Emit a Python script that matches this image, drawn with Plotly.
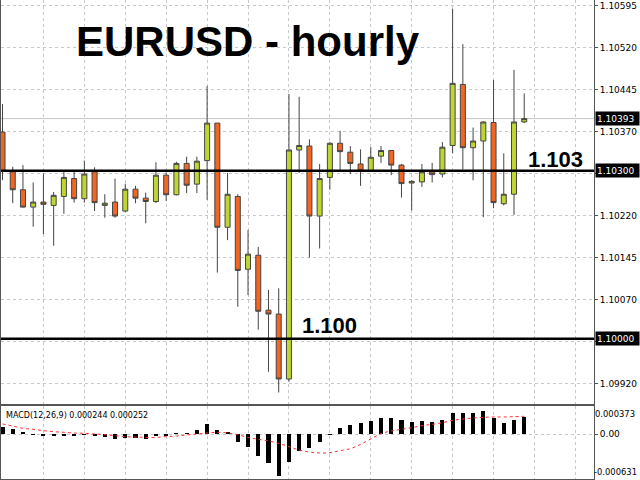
import plotly.graph_objects as go

# ---- data ----
idx = list(range(52))
open_ = [1.10369, 1.10298, 1.10266, 1.10235, 1.10244, 1.10238, 1.10254, 1.10286, 1.10250, 1.10298,
         1.10238, 1.10244, 1.10228, 1.10267, 1.10251, 1.10245, 1.10292, 1.10257, 1.10313, 1.10276,
         1.10318, 1.10385, 1.10199, 1.10254, 1.10124, 1.10149, 1.10051, 1.10044, 1.09928, 1.10337,
         1.10344, 1.10219, 1.10288, 1.10349, 1.10333, 1.10312, 1.10300, 1.10326, 1.10336, 1.10310,
         1.10278, 1.10280, 1.10298, 1.10294, 1.10345, 1.10454, 1.10341, 1.10353, 1.10386, 1.10241,
         1.10258, 1.10387]
high = [1.10419, 1.10307, 1.10310, 1.10279, 1.10295, 1.10262, 1.10299, 1.10299, 1.10318, 1.10306,
        1.10258, 1.10286, 1.10277, 1.10273, 1.10261, 1.10315, 1.10297, 1.10316, 1.10325, 1.10325,
        1.10451, 1.10385, 1.10296, 1.10258, 1.10194, 1.10164, 1.10087, 1.10090, 1.10437, 1.10432,
        1.10356, 1.10312, 1.10351, 1.10371, 1.10344, 1.10338, 1.10342, 1.10344, 1.10336, 1.10312,
        1.10283, 1.10312, 1.10314, 1.10351, 1.10589, 1.10526, 1.10377, 1.10388, 1.10462, 1.10331,
        1.10480, 1.10438]
low = [1.10283, 1.10242, 1.10234, 1.10200, 1.10187, 1.10166, 1.10223, 1.10243, 1.10243, 1.10228,
       1.10216, 1.10216, 1.10226, 1.10242, 1.10206, 1.10242, 1.10246, 1.10256, 1.10260, 1.10260,
       1.10248, 1.10118, 1.10176, 1.10057, 1.10078, 1.10016, 1.09941, 1.09904, 1.09923, 1.10296,
       1.10145, 1.10161, 1.10266, 1.10298, 1.10294, 1.10273, 1.10300, 1.10314, 1.10292, 1.10252,
       1.10229, 1.10271, 1.10279, 1.10288, 1.10331, 1.10302, 1.10283, 1.10217, 1.10233, 1.10238,
       1.10221, 1.10385]
close = [1.10299, 1.10266, 1.10235, 1.10244, 1.10240, 1.10256, 1.10288, 1.10250, 1.10294, 1.10243,
         1.10242, 1.10219, 1.10267, 1.10251, 1.10245, 1.10292, 1.10257, 1.10313, 1.10274, 1.10317,
         1.10385, 1.10199, 1.10258, 1.10122, 1.10151, 1.10049, 1.10044, 1.09928, 1.10337, 1.10345,
         1.10219, 1.10286, 1.10349, 1.10334, 1.10313, 1.10300, 1.10324, 1.10336, 1.10310, 1.10277,
         1.10281, 1.10298, 1.10293, 1.10342, 1.10456, 1.10341, 1.10353, 1.10387, 1.10243, 1.10258,
         1.10387, 1.10393]

macd_hist = [1.05, 0.71, 0.24, -0.10, -0.29, -0.29, -0.19, -0.29, -0.14, -0.24,
             -0.38, -0.76, -0.57, -0.57, -0.71, -0.33, -0.33, 0.10, 0.14, 0.57,
             1.43, 0.52, 0.29, -1.10, -1.81, -3.14, -4.19, -5.96, -3.96, -2.39,
             -1.96, -1.14, -0.02, 0.86, 1.29, 1.52, 1.86, 2.24, 2.24, 1.95,
             1.76, 1.81, 1.71, 1.95, 3.05, 3.05, 3.05, 3.24, 2.24, 1.57,
             2.00, 2.44]
macd_signal = [1.43, 1.14, 0.81, 0.67, 0.48, 0.33, 0.24, 0.14, 0.10, 0.00,
               -0.10, -0.24, -0.38, -0.43, -0.48, -0.48, -0.38, -0.29, -0.14, 0.00,
               0.14, 0.24, 0.14, -0.10, -0.48, -0.76, -1.00, -1.33, -1.81, -2.29,
               -2.57, -2.71, -2.67, -2.38, -2.10, -1.48, -0.71, 0.05, 0.43, 0.67,
               0.90, 1.19, 1.38, 1.62, 1.95, 2.14, 2.29, 2.38, 2.43, 2.43,
               2.48, 2.52]
macd_scale = 1e-4

price_ticks = [1.10595, 1.10520, 1.10445, 1.10370, 1.10295, 1.10220, 1.10145, 1.10070, 1.09995, 1.09920]
price_ticktext = ["1.10595", "1.10520", "1.10445", "1.10370", "", "1.10220", "1.10145", "1.10070", "", "1.09920"]
level_lines = [1.10300, 1.10000]
level_labels = ["1.103", "1.100"]
last_price = 1.10393
macd_top_label = "0.000373"
macd_bottom_label = "-0.000631"
macd_title = "MACD(12,26,9) 0.000244 0.000252"
title = "EURUSD - hourly"

BULL = "#bed62f"
BEAR = "#f26522"
GRID = "#c8c8c8"
AXIS = "#555555"
TICKFONT = dict(family="DejaVu Sans", size=9, color="#000000")
SMALLFONT = dict(family="DejaVu Sans", size=8.4, color="#000000")

fig = go.Figure()
fig.add_trace(go.Candlestick(
    x=idx, open=open_, high=high, low=low, close=close,
    increasing=dict(fillcolor=BULL, line=dict(color="#454545", width=1)),
    decreasing=dict(fillcolor=BEAR, line=dict(color="#454545", width=1)),
    xaxis="x", yaxis="y", showlegend=False, hoverinfo="skip"))

fig.add_trace(go.Bar(
    x=idx, y=[v * macd_scale for v in macd_hist], width=0.4,
    marker=dict(color="#000000", line=dict(width=0)),
    xaxis="x2", yaxis="y2", showlegend=False, hoverinfo="skip"))
fig.add_trace(go.Scatter(
    x=idx, y=[v * macd_scale for v in macd_signal], mode="lines",
    line=dict(color="#ff3030", width=1, dash="dot", shape="spline"),
    xaxis="x2", yaxis="y2", showlegend=False, hoverinfo="skip"))

xr = [-0.147, 57.82]
main_dom = [(479 - 404) / 479, 1.0]
macd_dom = [0.0, (479 - 406) / 479]

fig.update_layout(
    width=640, height=480,
    margin=dict(l=1, r=46, t=0, b=1),
    paper_bgcolor="white", plot_bgcolor="white",
    showlegend=False,
    bargap=0,
    xaxis=dict(domain=[0, 1], range=xr, anchor="y", rangeslider=dict(visible=False),
               tickvals=list(range(4, 58, 4)), showticklabels=False, ticks="",
               showgrid=True, gridcolor=GRID, griddash="dot", gridwidth=1,
               showline=True, linecolor=AXIS, linewidth=1, zeroline=False),
    yaxis=dict(domain=main_dom, range=[1.098834, 1.106048], side="right", anchor="x",
               tickvals=price_ticks, ticktext=price_ticktext, tickfont=TICKFONT,
               ticks="outside", ticklen=3, tickcolor=AXIS,
               showgrid=True, gridcolor=GRID, griddash="dot", gridwidth=1,
               showline=True, linecolor=AXIS, linewidth=1, mirror=True, zeroline=False),
    xaxis2=dict(domain=[0, 1], range=xr, anchor="y2",
                tickvals=list(range(4, 58, 4)), showticklabels=False, ticks="",
                showgrid=True, gridcolor=GRID, griddash="dot", gridwidth=1,
                showline=True, linecolor=AXIS, linewidth=1, mirror=True, zeroline=False),
    yaxis2=dict(domain=macd_dom, range=[-0.000643, 0.000400], side="right", anchor="x2",
                tickvals=[0.0], ticktext=["0.00"], tickfont=TICKFONT,
                ticks="outside", ticklen=3, tickcolor=AXIS,
                showgrid=True, gridcolor=GRID, griddash="dot", gridwidth=1,
                showline=True, linecolor=AXIS, linewidth=1, mirror=True, zeroline=False),
)

# current price line (light gray) and key levels (thick black)
fig.add_shape(type="line", xref="paper", x0=0, x1=1, yref="y", y0=last_price, y1=last_price,
              line=dict(color="#c4c4c4", width=1), layer="below")
for lv in level_lines:
    fig.add_shape(type="line", xref="paper", x0=0, x1=1, yref="y", y0=lv, y1=lv,
                  line=dict(color="#000000", width=2.6))

# highlighted price labels on the right axis
for val in [last_price] + level_lines:
    fig.add_annotation(xref="paper", x=1, xanchor="left", xshift=1, yref="y", y=val,
                       text=f"{val:.5f}", showarrow=False, bgcolor="#000000",
                       font=dict(family="DejaVu Sans", size=9, color="#ffffff"),
                       width=41, height=11, borderpad=1, align="left")

# level texts
fig.add_annotation(xref="paper", x=(555.2 - 1) / 593, yref="paper", y=(479 - 159) / 479,
                   text=f"<b>{level_labels[0]}</b>", showarrow=False, xanchor="center", yanchor="middle",
                   font=dict(family="Liberation Sans", size=22, color="#000000"))
fig.add_annotation(xref="paper", x=(329.5 - 1) / 593, yref="paper", y=(479 - 325.7) / 479,
                   text=f"<b>{level_labels[1]}</b>", showarrow=False, xanchor="center", yanchor="middle",
                   font=dict(family="Liberation Sans", size=22, color="#000000"))

# title
fig.add_annotation(xref="paper", x=(247.5 - 1) / 593, yref="paper", y=(479 - 41.5) / 479,
                   text=f"<b>{title}</b>", showarrow=False, xanchor="center", yanchor="middle",
                   font=dict(family="Liberation Sans", size=42, color="#000000"))

# MACD labels
fig.add_annotation(xref="paper", x=(4 - 1) / 593, yref="paper", y=(479 - 415.5) / 479,
                   text=macd_title, showarrow=False, xanchor="left", yanchor="middle",
                   font=dict(family="DejaVu Sans", size=8, color="#000000"))
fig.add_annotation(xref="paper", x=1, xanchor="left", xshift=0, yref="paper", y=(479 - 414) / 479,
                   yanchor="middle", text=macd_top_label, showarrow=False, font=SMALLFONT,
                   borderpad=0)
fig.add_annotation(xref="paper", x=1, xanchor="left", xshift=-1, yref="paper", y=(479 - 471.5) / 479,
                   yanchor="middle", text=macd_bottom_label, showarrow=False, font=SMALLFONT,
                   borderpad=0)

fig.write_html("out.html", config={"displayModeBar": False},
               post_script="document.body.style.margin='0';document.body.style.padding='0';")
